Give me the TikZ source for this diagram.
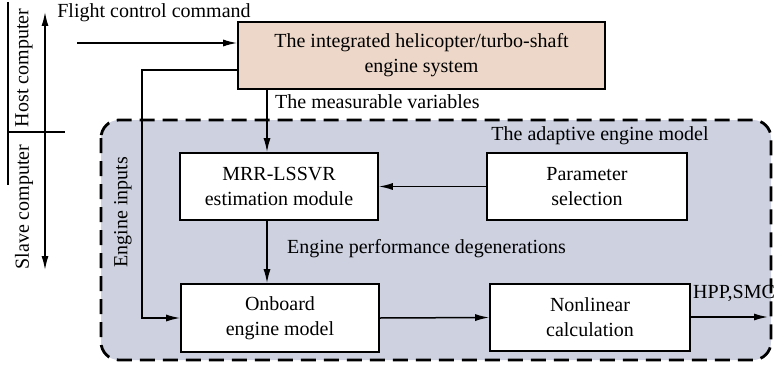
\documentclass[tikz,border=0pt]{standalone}
\usepackage{fontspec}
\setmainfont{Liberation Serif}
\usetikzlibrary{arrows.meta}
\definecolor{peach}{RGB}{237,215,200}
\definecolor{regionblue}{RGB}{205,209,224}
\begin{document}
\begin{tikzpicture}[x=1pt,y=-1pt,
  every node/.style={font=\fontsize{20}{25}\selectfont, inner sep=0pt},
  blk/.style={draw, line width=1.6pt, fill=white, align=center, minimum width=198pt, minimum height=67pt},
  conn/.style={line width=1.5pt},
  tip/.tip={Latex[length=14pt,width=7pt]},
  arr/.style={conn, -tip},
  lbl/.style={anchor=west}]
\useasboundingbox (0,0) rectangle (775,369);
% adaptive engine model region
\draw[fill=regionblue, line width=2.8pt, dash pattern=on 15pt off 8pt, rounded corners=18pt] (101,120) rectangle (771,360);
% nodes
\node[blk, fill=peach, minimum width=367pt] (top) at (421.5,55.5) {The integrated helicopter/turbo-shaft\\engine system};
\node[blk] (mrr) at (279,186.5) {MRR-LSSVR\\estimation module};
\node[blk, minimum width=200pt] (param) at (587,186.5) {Parameter\\selection};
\node[blk, minimum height=68pt] (onboard) at (280,318) {Onboard\\engine model};
\node[blk, minimum width=200pt] (nonlin) at (590,317.5) {Nonlinear\\calculation};
% labels
\node (fcc) at (154,13) {Flight control command};
\node[lbl] (mvl) at (275,102) {The measurable variables};
\node (aem) at (600,136) {The adaptive engine model};
\node[lbl] (epd) at (287,249) {Engine performance degenerations};
\node[lbl] (hpp) at (693,293) {HPP,SMC};
\node[rotate=90] (ei) at (123,212) {Engine inputs};
\node[rotate=90] (host) at (24,68) {Host computer};
\node[rotate=90] (slave) at (24,207) {Slave computer};
% coordinates
\coordinate (hc1) at (45,12);
\coordinate (hc2) at (45,270);
\coordinate (d1) at (8,132);
\coordinate (d2) at (65,132);
\coordinate (v1) at (8,2);
\coordinate (v2) at (8,185);
\coordinate (fc) at (77,43);
\coordinate (ein) at (142,70);
\coordinate (mv) at (267,0);
\coordinate (out) at (768,317);
% host/slave division
\draw[conn, tip-tip] (hc1) -- (hc2);
\draw[conn] (d1) -- (d2);
\draw[conn] (v1) -- (v2);
% connectors
\draw[arr] (fc) -- (top.west |- fc);
\draw[arr] (top.west |- ein) -- (ein) -- (ein |- onboard.west) -- (onboard.west);
\draw[arr] (top.south -| mv) -- (mrr.north -| mv);
\draw[arr] (param.west) -- (mrr.east);
\draw[arr] (mrr.south -| mv) -- (onboard.north -| mv);
\draw[arr] (onboard.east) -- (nonlin.west);
\draw[arr] (nonlin.east |- out) -- (out);
\end{tikzpicture}
\end{document}
